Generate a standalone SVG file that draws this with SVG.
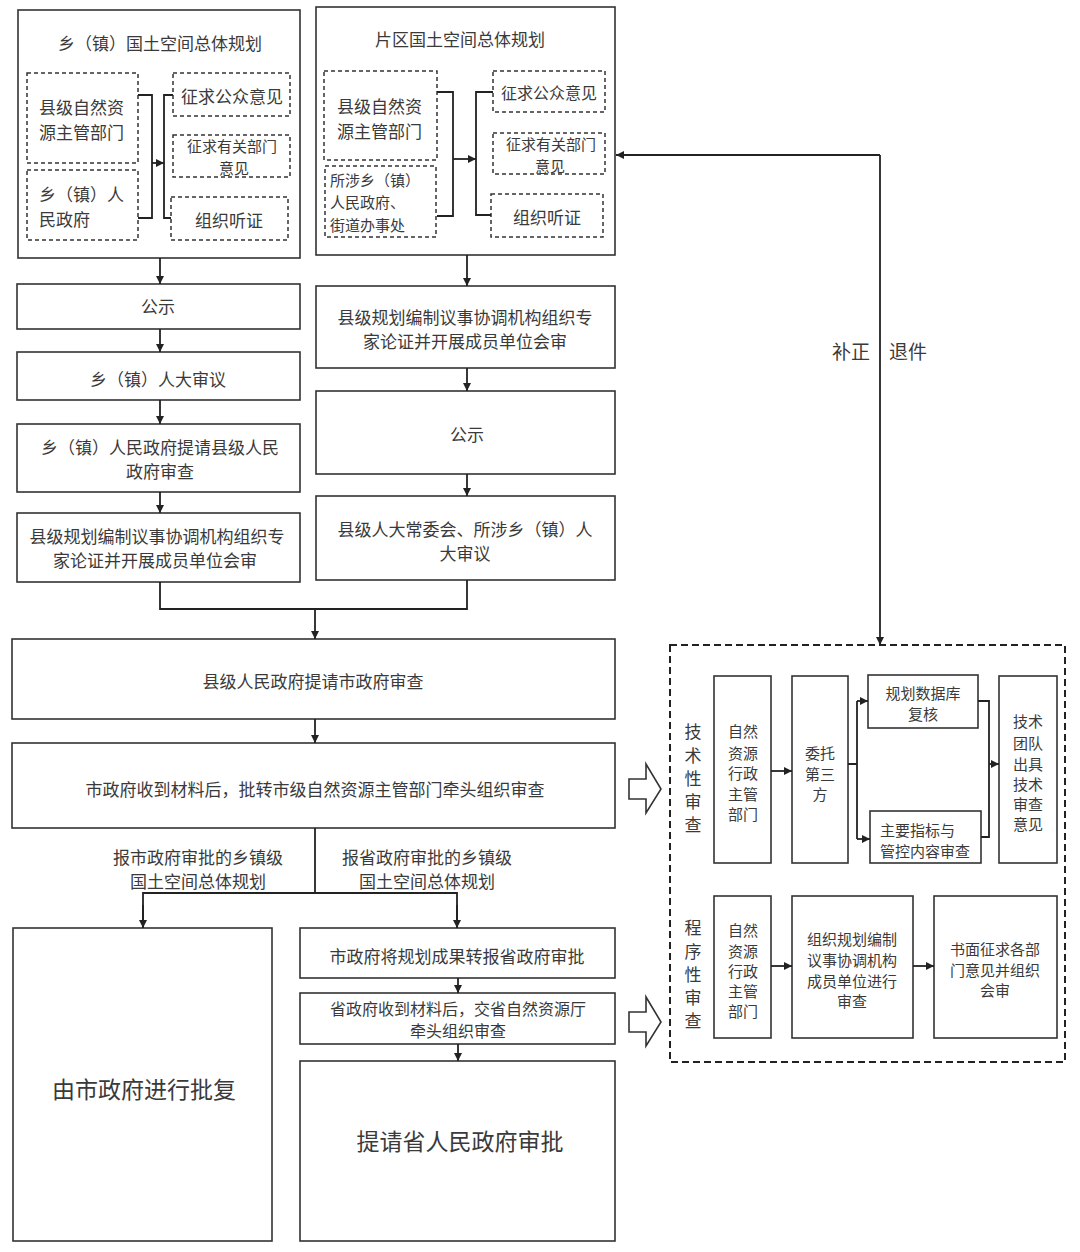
<svg xmlns="http://www.w3.org/2000/svg" width="1080" height="1252" viewBox="0 0 1080 1252">
<style>
text{font-family:"Noto Sans CJK SC","Noto Sans",sans-serif;fill:#3a3a3a;dominant-baseline:central}
.c{text-anchor:middle}
.s{text-anchor:start}
.f17{font-size:17px}
.f16{font-size:16px}
.f15{font-size:15px}
.f23{font-size:23px}
.box{fill:#fff;stroke:#333;stroke-width:1.6}
.dbox{fill:#fff;stroke:#333;stroke-width:1.5;stroke-dasharray:4 3}
.big{fill:none;stroke:#222;stroke-width:2;stroke-dasharray:7 4}
.ln{fill:none;stroke:#222;stroke-width:1.8}
.hol{fill:#fff;stroke:#333;stroke-width:1.6}
</style>
<defs>
<marker id="ah" viewBox="0 0 10 10" refX="10" refY="5" markerWidth="8" markerHeight="8" orient="auto" markerUnits="userSpaceOnUse"><path d="M0,0 L10,5 L0,10 z" fill="#222"/></marker>
</defs>
<rect width="1080" height="1252" fill="#fff"/>

<g id="township-plan">
<rect class="box" x="18" y="10" width="282" height="248"/>
<text class="c f17" x="160" y="42">乡（镇）国土空间总体规划</text>
</g>
<g id="t-dept"><rect class="dbox" x="27" y="73" width="111" height="90"/><text class="s f17" x="39" y="106">县级自然资</text><text class="s f17" x="39" y="131">源主管部门</text></g>
<g id="t-gov"><rect class="dbox" x="27" y="170" width="111" height="70"/><text class="s f17" x="39" y="193">乡（镇）人</text><text class="s f17" x="39" y="218">民政府</text></g>
<g id="t-public"><rect class="dbox" x="173" y="73" width="117" height="43"/><text class="c f17" x="232" y="95">征求公众意见</text></g>
<g id="t-depts"><rect class="dbox" x="173" y="135" width="117" height="42"/><text class="c f15" x="232" y="145">征求有关部门</text><text class="c f15" x="234" y="167">意见</text></g>
<g id="t-hearing"><rect class="dbox" x="171" y="197" width="117" height="43"/><text class="c f17" x="229" y="219">组织听证</text></g>

<g id="district-plan">
<rect class="box" x="316" y="7" width="299" height="248"/>
<text class="c f17" x="460" y="38">片区国土空间总体规划</text>
</g>
<g id="d-dept"><rect class="dbox" x="324" y="71" width="113" height="89"/><text class="s f17" x="337" y="105">县级自然资</text><text class="s f17" x="337" y="130">源主管部门</text></g>
<g id="d-gov"><rect class="dbox" x="325" y="166" width="111" height="71"/><text class="s f15" x="330" y="179">所涉乡（镇）</text><text class="s f15" x="330" y="201">人民政府、</text><text class="s f15" x="330" y="224">街道办事处</text></g>
<g id="d-public"><rect class="dbox" x="493" y="71" width="112" height="41"/><text class="c f16" x="549" y="92">征求公众意见</text></g>
<g id="d-depts"><rect class="dbox" x="493" y="133" width="112" height="41"/><text class="c f15" x="551" y="143">征求有关部门</text><text class="c f15" x="550" y="165">意见</text></g>
<g id="d-hearing"><rect class="dbox" x="491" y="194" width="112" height="43"/><text class="c f17" x="547" y="216">组织听证</text></g>

<g id="l-publicity"><rect class="box" x="17" y="284" width="283" height="45"/><text class="c f17" x="158" y="305">公示</text></g>
<g id="l-congress"><rect class="box" x="17" y="352" width="283" height="48"/><text class="c f17" x="158" y="378">乡（镇）人大审议</text></g>
<g id="l-submit"><rect class="box" x="17" y="424" width="283" height="68"/><text class="c f17" x="160" y="446">乡（镇）人民政府提请县级人民</text><text class="c f17" x="160" y="470">政府审查</text></g>
<g id="l-expert"><rect class="box" x="17" y="513" width="283" height="69"/><text class="c f17" x="157" y="535">县级规划编制议事协调机构组织专</text><text class="c f17" x="155" y="559">家论证并开展成员单位会审</text></g>

<g id="r-expert"><rect class="box" x="316" y="286" width="299" height="82"/><text class="c f17" x="465" y="316">县级规划编制议事协调机构组织专</text><text class="c f17" x="465" y="340">家论证并开展成员单位会审</text></g>
<g id="r-publicity"><rect class="box" x="316" y="391" width="299" height="83"/><text class="c f17" x="467" y="433">公示</text></g>
<g id="r-congress"><rect class="box" x="316" y="496" width="299" height="84"/><text class="c f17" x="465" y="528">县级人大常委会、所涉乡（镇）人</text><text class="c f17" x="465" y="552">大审议</text></g>

<g id="county-submit"><rect class="box" x="12" y="639" width="603" height="80"/><text class="c f17" x="313" y="680">县级人民政府提请市政府审查</text></g>
<g id="city-review"><rect class="box" x="12" y="743" width="603" height="85"/><text class="c f17" x="315" y="788">市政府收到材料后，批转市级自然资源主管部门牵头组织审查</text></g>

<g id="city-approve"><rect class="box" x="13" y="928" width="259" height="313"/><text class="c f23" x="144" y="1088">由市政府进行批复</text></g>
<g id="city-forward"><rect class="box" x="300" y="928" width="315" height="50"/><text class="c f17" x="457" y="955">市政府将规划成果转报省政府审批</text></g>
<g id="prov-review"><rect class="box" x="300" y="993" width="315" height="51"/><text class="c f16" x="458" y="1008">省政府收到材料后，交省自然资源厅</text><text class="c f16" x="458" y="1030">牵头组织审查</text></g>
<g id="prov-approve"><rect class="box" x="300" y="1061" width="315" height="180"/><text class="c f23" x="460" y="1140">提请省人民政府审批</text></g>

<g id="hollow-arrows">
<path class="hol" d="M629,779 H646 V764 L661,789 L646,813 V799 H629 Z"/>
<path class="hol" d="M629,1012 H646 V997 L661,1022 L646,1046 V1032 H629 Z"/>
</g>

<g id="review-panel">
<rect class="big" x="670" y="645" width="395" height="417"/>
<text class="c f17" x="693" y="730">技</text><text class="c f17" x="693" y="754">术</text><text class="c f17" x="693" y="777">性</text><text class="c f17" x="693" y="800">审</text><text class="c f17" x="693" y="823">查</text>
<text class="c f17" x="693" y="926">程</text><text class="c f17" x="693" y="950">序</text><text class="c f17" x="693" y="973">性</text><text class="c f17" x="693" y="996">审</text><text class="c f17" x="693" y="1019">查</text>
</g>
<g id="tech-dept"><rect class="box" x="714" y="676" width="57" height="187"/>
<text class="c f15" x="743" y="730">自然</text><text class="c f15" x="743" y="752">资源</text><text class="c f15" x="743" y="772">行政</text><text class="c f15" x="743" y="793">主管</text><text class="c f15" x="743" y="813">部门</text></g>
<g id="tech-third"><rect class="box" x="792" y="676" width="56" height="187"/>
<text class="c f15" x="820" y="752">委托</text><text class="c f15" x="820" y="773">第三</text><text class="c f15" x="820" y="793">方</text></g>
<g id="tech-db"><rect class="box" x="868" y="675" width="110" height="53"/>
<text class="c f15" x="923" y="692">规划数据库</text><text class="c f15" x="923" y="713">复核</text></g>
<g id="tech-index"><rect class="box" x="870" y="811" width="111" height="52"/>
<text class="s f15" x="880" y="829">主要指标与</text><text class="s f15" x="880" y="850">管控内容审查</text></g>
<g id="tech-team"><rect class="box" x="999" y="676" width="58" height="187"/>
<text class="c f15" x="1028" y="720">技术</text><text class="c f15" x="1028" y="742">团队</text><text class="c f15" x="1028" y="763">出具</text><text class="c f15" x="1028" y="783">技术</text><text class="c f15" x="1028" y="803">审查</text><text class="c f15" x="1028" y="823">意见</text></g>
<g id="proc-dept"><rect class="box" x="714" y="896" width="57" height="142"/>
<text class="c f15" x="743" y="929">自然</text><text class="c f15" x="743" y="950">资源</text><text class="c f15" x="743" y="970">行政</text><text class="c f15" x="743" y="990">主管</text><text class="c f15" x="743" y="1010">部门</text></g>
<g id="proc-org"><rect class="box" x="792" y="896" width="121" height="142"/>
<text class="c f15" x="852" y="938">组织规划编制</text><text class="c f15" x="852" y="959">议事协调机构</text><text class="c f15" x="852" y="980">成员单位进行</text><text class="c f15" x="852" y="1000">审查</text></g>
<g id="proc-written"><rect class="box" x="934" y="896" width="123" height="142"/>
<text class="c f15" x="995" y="948">书面征求各部</text><text class="c f15" x="995" y="969">门意见并组织</text><text class="c f15" x="995" y="989">会审</text></g>

<g id="connectors">
<path class="ln" d="M138,95 H152 V218 H138"/>
<path class="ln" d="M152,163 H164" marker-end="url(#ah)"/>
<path class="ln" d="M173,95 H164 V218 H171"/>
<path class="ln" d="M437,92 H453 V216 H437"/>
<path class="ln" d="M453,159 H476" marker-end="url(#ah)"/>
<path class="ln" d="M493,92 H476 V215 H491"/>
<path class="ln" d="M160,258 V284" marker-end="url(#ah)"/>
<path class="ln" d="M160,329 V352" marker-end="url(#ah)"/>
<path class="ln" d="M160,400 V424" marker-end="url(#ah)"/>
<path class="ln" d="M160,492 V513" marker-end="url(#ah)"/>
<path class="ln" d="M467,255 V286" marker-end="url(#ah)"/>
<path class="ln" d="M467,368 V391" marker-end="url(#ah)"/>
<path class="ln" d="M467,474 V496" marker-end="url(#ah)"/>
<path class="ln" d="M160,582 V609 H467 V580"/>
<path class="ln" d="M315,609 V639" marker-end="url(#ah)"/>
<path class="ln" d="M315,719 V743" marker-end="url(#ah)"/>
<path class="ln" d="M315,828 V893"/>
<path class="ln" d="M143,928 V893 H457 V928"/>
<path class="ln" d="M143,905 V928" marker-end="url(#ah)"/>
<path class="ln" d="M457,905 V928" marker-end="url(#ah)"/>
<path class="ln" d="M458,978 V993" marker-end="url(#ah)"/>
<path class="ln" d="M458,1044 V1061" marker-end="url(#ah)"/>
<path class="ln" d="M880,155 H616" marker-end="url(#ah)"/>
<path class="ln" d="M880,155 V645" marker-end="url(#ah)"/>
<path class="ln" d="M771,771 H792" marker-end="url(#ah)"/>
<path class="ln" d="M848,764 H857 M857,701 V839"/>
<path class="ln" d="M857,701 H868" marker-end="url(#ah)"/>
<path class="ln" d="M857,839 H870" marker-end="url(#ah)"/>
<path class="ln" d="M978,701 H989 V837 H981"/>
<path class="ln" d="M989,764 H999" marker-end="url(#ah)"/>
<path class="ln" d="M771,966 H792" marker-end="url(#ah)"/>
<path class="ln" d="M913,966 H934" marker-end="url(#ah)"/>
<text class="c f17" x="198" y="856">报市政府审批的乡镇级</text>
<text class="c f17" x="198" y="880">国土空间总体规划</text>
<text class="c f17" x="427" y="856">报省政府审批的乡镇级</text>
<text class="c f17" x="427" y="880">国土空间总体规划</text>
<text class="c f17" x="851" y="350" style="font-size:19px">补正</text>
<text class="c f17" x="908" y="350" style="font-size:19px">退件</text>
</g>
</svg>
